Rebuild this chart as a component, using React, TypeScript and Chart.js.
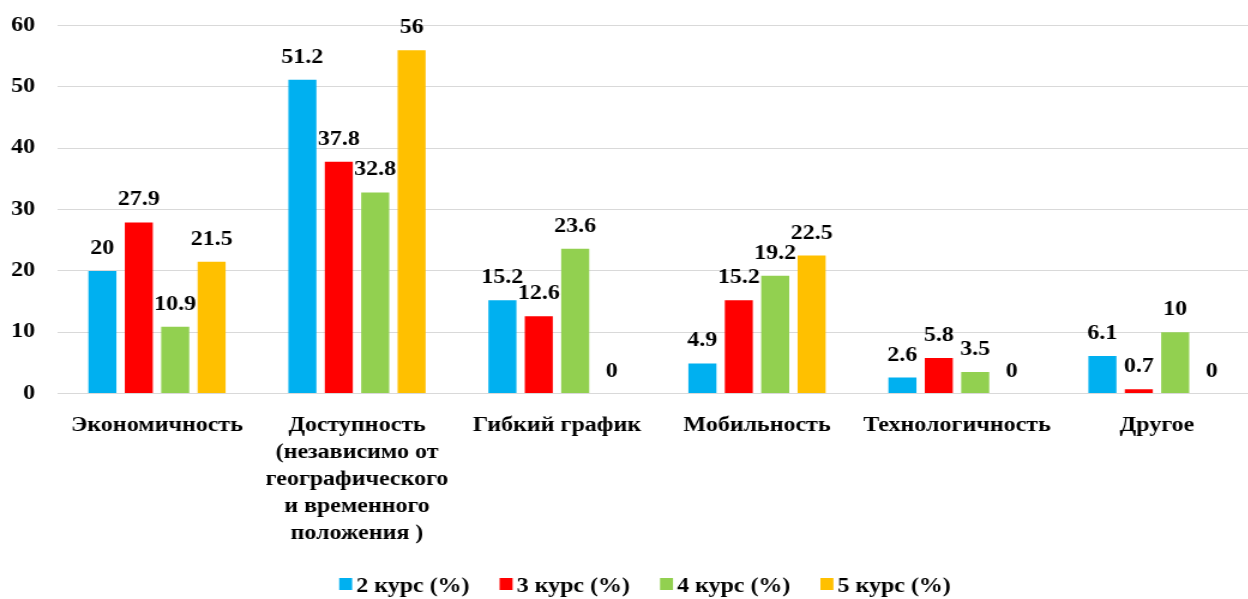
import React, { useEffect, useRef } from "react";
import { Chart, registerables } from "chart.js";

Chart.register(...registerables);

const categories: (string | string[])[] = [
  "Экономичность",
  ["Доступность", "(независимо от", "географического", "и временного", "положения )"],
  "Гибкий график",
  "Мобильность",
  "Технологичность",
  "Другое",
];

const seriesNames = ["2 курс (%)", "3 курс (%)", "4 курс (%)", "5 курс (%)"];
const course2 = [20, 51.2, 15.2, 4.9, 2.6, 6.1];
const course3 = [27.9, 37.8, 12.6, 15.2, 5.8, 0.7];
const course4 = [10.9, 32.8, 23.6, 19.2, 3.5, 10];
const course5 = [21.5, 56, 0, 22.5, 0, 0];
const seriesColors = ["#00B0F0", "#FF0000", "#92D050", "#FFC000"];
const yTicks = [0, 10, 20, 30, 40, 50, 60];

// horizontal stretch of the reference rendering
const S = 1.2;
const DISPLAY_W = 1257;
const DISPLAY_H = 599;
const INTERNAL_W = Math.round(DISPLAY_W / S);
const SX = DISPLAY_W / INTERNAL_W;
const FAMILY = "'Liberation Serif', 'Times New Roman', serif";
const FS = 20;

const dataLabelPlugin = {
  id: "valueLabels",
  afterDatasetsDraw(chart: any) {
    const ctx = chart.ctx;
    ctx.save();
    ctx.font = `bold ${FS}px ${FAMILY}`;
    ctx.fillStyle = "#000";
    ctx.textAlign = "center";
    ctx.textBaseline = "alphabetic";
    chart.data.datasets.forEach((ds: any, i: number) => {
      const meta = chart.getDatasetMeta(i);
      meta.data.forEach((el: any, j: number) => {
        ctx.fillText(String(ds.data[j]), el.x, el.y - 17);
      });
    });
    ctx.restore();
  },
};

const legendPlugin = {
  id: "customLegend",
  afterDraw(chart: any) {
    const ctx = chart.ctx;
    ctx.save();
    ctx.font = `bold ${FS}px ${FAMILY}`;
    ctx.textBaseline = "alphabetic";
    ctx.textAlign = "left";
    const boxW = 13 / SX;
    const boxH = 12;
    const gap = 4 / SX;
    const itemGap = 30 / SX;
    const widths = seriesNames.map((n) => ctx.measureText(n).width);
    const total =
      widths.reduce((a, w) => a + boxW + gap + w, 0) + itemGap * (seriesNames.length - 1);
    let x = 645 / SX - total / 2;
    seriesNames.forEach((name, i) => {
      ctx.fillStyle = seriesColors[i];
      ctx.fillRect(x, 578, boxW, boxH);
      ctx.fillStyle = "#000";
      ctx.fillText(name, x + boxW + gap, 591.5);
      x += boxW + gap + widths[i] + itemGap;
    });
    ctx.restore();
  },
};

export default function App() {
  const ref = useRef<HTMLCanvasElement | null>(null);

  useEffect(() => {
    if (!ref.current) return;
    const seriesData = [course2, course3, course4, course5];
    const chart = new Chart(ref.current, {
      type: "bar",
      data: {
        labels: categories,
        datasets: seriesData.map((d, i) => ({
          label: seriesNames[i],
          data: d,
          backgroundColor: seriesColors[i],
          borderWidth: 0,
          barPercentage: 0.77,
          categoryPercentage: 0.728,
        })),
      },
      options: {
        responsive: false,
        animation: false,
        devicePixelRatio: 1,
        layout: { padding: { top: 25.7, bottom: 0, left: 0, right: 0 } },
        plugins: {
          legend: { display: false },
          tooltip: { enabled: false },
        },
        scales: {
          x: {
            grid: { display: false },
            border: { display: false },
            ticks: {
              color: "#000",
              font: { family: FAMILY, size: FS, weight: "bold", lineHeight: 1.35 },
              padding: 11,
              maxRotation: 0,
              minRotation: 0,
              autoSkip: false,
            },
            afterFit: (s: any) => {
              s.height = 205.5;
            },
          },
          y: {
            min: 0,
            max: 60,
            border: { display: false },
            grid: { color: "#D9D9D9", lineWidth: 1, drawTicks: false },
            afterBuildTicks: (s: any) => {
              s.ticks = yTicks.map((v) => ({ value: v }));
            },
            ticks: {
              color: "#000",
              font: { family: FAMILY, size: FS, weight: "bold", lineHeight: 0.5 },
              padding: 22 / SX,
            },
            afterFit: (s: any) => {
              s.width = 57 / SX;
            },
          },
        },
      },
      plugins: [dataLabelPlugin, legendPlugin],
    });
    return () => chart.destroy();
  }, []);

  return (
    <div
      style={{
        position: "fixed",
        left: 0,
        top: 0,
        width: 1248,
        height: 599,
        overflow: "hidden",
        background: "#fff",
      }}
    >
      <canvas
        ref={ref}
        width={INTERNAL_W}
        height={DISPLAY_H}
        style={{ display: "block", width: `${DISPLAY_W}px`, height: `${DISPLAY_H}px` }}
      />
    </div>
  );
}
